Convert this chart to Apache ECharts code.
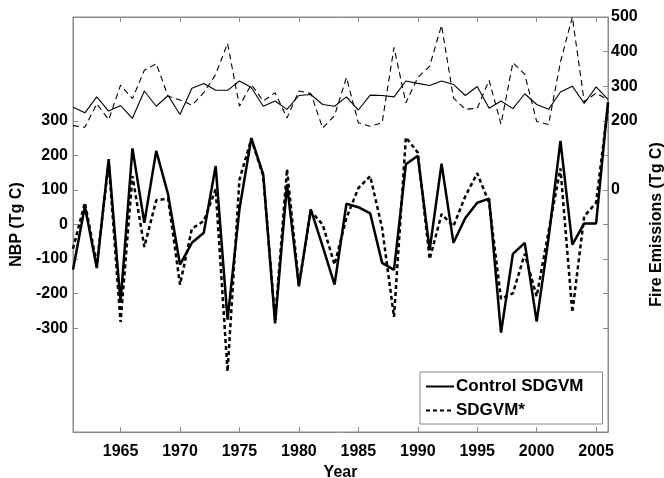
<!DOCTYPE html>
<html>
<head>
<meta charset="utf-8">
<script src="https://cdn.jsdelivr.net/npm/echarts@6/dist/echarts.min.js"></script>
<style>
  html, body { margin: 0; padding: 0; background: #fff; }
  #chart { width: 664px; height: 478px; }
</style>
</head>
<body>
<div id="chart"></div>
<script>
var years = [];
for (var y = 1961; y <= 2006; y++) years.push(y);

// NBP (Tg C), left axis
var nbpControl = [-131, 53, -126, 189, -225, 220, 5, 213, 87, -116,
                  -53, -24, 169, -275, 44, 250, 145, -286, 116, -179,
                  44, -63, -174, 60, 50, 32, -111, -131, 174, 199,
                  -73, 176, -53, 19, 63, 75, -313, -85, -53, -281,
                  -40, 242, -58, 3, 3, 354];
var nbpStar = [-70, 63, -115, 180, -282, 140, -65, 70, 75, -174,
               -12, 10, 102, -425, 130, 247, 140, -276, 160, -174,
               39, 0, -116, 19, 105, 140, -10, -267, 252, 208,
               -100, 30, -5, 82, 148, 63, -215, -199, -85, -208,
               -20, 162, -254, 24, 63, 344];

// Fire emissions (Tg C), right axis
var fireControl = [239, 223, 269, 228, 244, 207, 286, 242, 273, 218,
                   294, 308, 288, 288, 315, 296, 242, 257, 233, 273,
                   276, 247, 242, 269, 231, 274, 273, 269, 315, 308,
                   302, 315, 305, 273, 299, 236, 257, 235, 278, 247,
                   233, 283, 300, 250, 298, 262];
var fireStar = [186, 181, 249, 203, 303, 264, 346, 365, 271, 260,
                245, 281, 334, 424, 242, 305, 257, 281, 208, 286,
                279, 179, 215, 325, 194, 184, 194, 412, 252, 325,
                358, 476, 266, 233, 236, 317, 190, 368, 334, 198,
                189, 370, 500, 255, 280, 260];

var xTicks = [1965, 1970, 1975, 1980, 1985, 1990, 1995, 2000, 2005];
var leftTicks = [-300, -200, -100, 0, 100, 200, 300];
var rightTickMarks = [-400, -300, -200, -100, 0, 100, 200, 300, 400, 500];
var rightLabels = [0, 200, 300, 400, 500];

function pairs(vals) {
    return years.map(function(yr, i) { return [yr, vals[i]]; });
}

var font = '"Liberation Sans", Arial, sans-serif';
var axisGrey = '#8a8a8a';
var labelStyle = { color: '#000', fontFamily: font, fontWeight: 'bold', fontSize: 16 };

var chart = echarts.init(document.getElementById('chart'), null, { renderer: 'canvas' });
chart.setOption({
    animation: false,
    backgroundColor: '#fff',
    grid: {
        left: 73, right: 56, top: 17, bottom: 46,
        outerBoundsMode: 'none',
        show: true, borderColor: axisGrey, borderWidth: 1, backgroundColor: 'transparent'
    },
    legend: {
        data: ['Control SDGVM', 'SDGVM*'],
        orient: 'vertical',
        left: 420, top: 372,
        padding: [6, 19, 5, 5],
        itemGap: 7,
        itemWidth: 28, itemHeight: 14,
        itemStyle: { opacity: 0 },
        borderColor: axisGrey, borderWidth: 1,
        backgroundColor: '#fff',
        textStyle: { color: '#000', fontFamily: font, fontWeight: 'bold', fontSize: 17, padding: [0, 0, 0, -3] }
    },
    xAxis: [{
        type: 'value', min: 1961, max: 2006, position: 'bottom',
        axisLine: { show: true, onZero: false, lineStyle: { color: axisGrey } },
        axisTick: { show: true, inside: true, length: 5, customValues: xTicks, lineStyle: { color: axisGrey } },
        axisLabel: Object.assign({
            customValues: xTicks, margin: 12,
            formatter: function(v) { return String(v); }
        }, labelStyle),
        splitLine: { show: false },
        name: 'Year', nameLocation: 'middle', nameGap: 31,
        nameTextStyle: labelStyle
    }, {
        type: 'value', min: 1961, max: 2006, position: 'top',
        axisLine: { show: true, onZero: false, lineStyle: { color: axisGrey } },
        axisTick: { show: true, inside: true, length: 5, customValues: xTicks, lineStyle: { color: axisGrey } },
        axisLabel: { show: false },
        splitLine: { show: false }
    }],
    yAxis: [{
        type: 'value', min: -600, max: 600, interval: 100, position: 'left',
        axisLine: { show: true, onZero: false, lineStyle: { color: axisGrey } },
        axisTick: { show: true, inside: true, length: 5, customValues: leftTicks, lineStyle: { color: axisGrey } },
        axisLabel: Object.assign({ customValues: leftTicks, margin: 5 }, labelStyle),
        splitLine: { show: false },
        name: 'NBP (Tg C)', nameLocation: 'middle', nameGap: 33, nameRotate: 90,
        nameTextStyle: labelStyle
    }, {
        type: 'value', min: -700, max: 500, interval: 100, position: 'right',
        axisLine: { show: true, onZero: false, lineStyle: { color: axisGrey } },
        axisTick: { show: true, inside: true, length: 5, customValues: rightTickMarks, lineStyle: { color: axisGrey } },
        axisLabel: Object.assign({ customValues: rightLabels, margin: 3 }, labelStyle),
        splitLine: { show: false },
        name: 'Fire Emissions (Tg C)', nameLocation: 'middle', nameGap: 38, nameRotate: 90,
        nameTextStyle: labelStyle
    }],
    series: [{
        name: 'Control SDGVM', type: 'line', xAxisIndex: 0, yAxisIndex: 0,
        data: pairs(nbpControl), symbol: 'none', clip: false,
        lineStyle: { color: '#000', width: 2.5 }, itemStyle: { color: '#000' }, z: 3
    }, {
        name: 'SDGVM*', type: 'line', xAxisIndex: 0, yAxisIndex: 0,
        data: pairs(nbpStar), symbol: 'none', clip: false,
        lineStyle: { color: '#000', width: 2.5, type: [4, 3] }, itemStyle: { color: '#000' }, z: 3
    }, {
        name: 'Control SDGVM fire', type: 'line', xAxisIndex: 0, yAxisIndex: 1,
        data: pairs(fireControl), symbol: 'none', clip: false,
        lineStyle: { color: '#000', width: 1.1 }, itemStyle: { color: '#000' }
    }, {
        name: 'SDGVM* fire', type: 'line', xAxisIndex: 0, yAxisIndex: 1,
        data: pairs(fireStar), symbol: 'none', clip: false,
        lineStyle: { color: '#000', width: 1.1, type: [6, 4] }, itemStyle: { color: '#000' }
    }]
});

window.addEventListener('resize', function() {
    chart.resize();
});
</script>
</body>
</html>
